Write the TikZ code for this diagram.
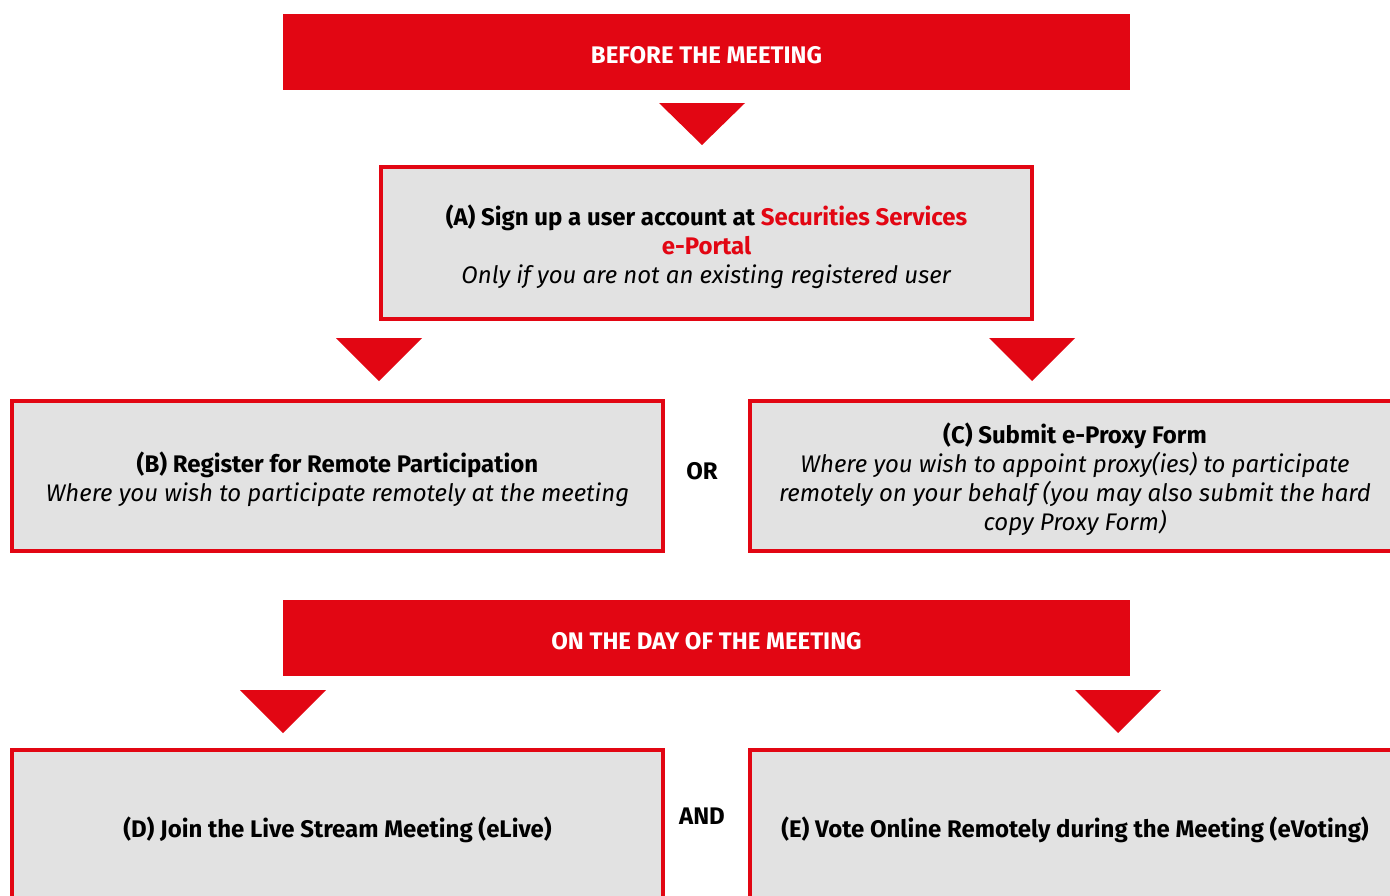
\documentclass[tikz,border=0pt]{standalone}
\usepackage{fontspec}
\setmainfont{Fira Sans}
\definecolor{brandred}{HTML}{E20613}
\definecolor{boxgray}{HTML}{E2E2E2}
\begin{document}
\begin{tikzpicture}[x=1pt,y=-1pt,
  banner/.style={fill=brandred,draw=none,text=white,font=\fontsize{24}{29}\selectfont\bfseries},
  stepbox/.style={fill=boxgray,draw=brandred,line width=4pt},
  boxtext/.style={align=center,font=\fontsize{24}{29}\selectfont,inner sep=0pt},
  sep/.style={font=\fontsize{24}{29}\selectfont\bfseries,inner sep=0pt},
  tri/.style={fill=brandred,draw=none}]
\clip (0,0) rectangle (1390,895);
\fill[white] (0,0) rectangle (1390,895);
% banners
\fill[banner] (283,14) rectangle (1130,90);
\node[banner,fill=none,inner sep=0pt] (before) at (706.5,55) {BEFORE THE MEETING};
\fill[banner] (283,600) rectangle (1130,676);
\node[banner,fill=none,inner sep=0pt] (onday) at (706.5,641) {ON THE DAY OF THE MEETING};
% triangles
\fill[tri] (659,103) -- (745,103) -- (702,145) -- cycle;
\fill[tri] (336,338) -- (422,338) -- (379,381) -- cycle;
\fill[tri] (989,338) -- (1075,338) -- (1032,381) -- cycle;
\fill[tri] (240,690) -- (326,690) -- (283,733) -- cycle;
\fill[tri] (1075,690) -- (1161,690) -- (1118,733) -- cycle;
% boxes
\draw[stepbox] (381,167) rectangle (1032,319);
\draw[stepbox] (12,401) rectangle (663,551);
\draw[stepbox] (750,401) rectangle (1401,551);
\draw[stepbox] (12,750) rectangle (663,910);
\draw[stepbox] (750,750) rectangle (1401,910);
% texts
\node[boxtext] (a) at (706.5,247) {\textbf{(A) Sign up a user account at \textcolor{brandred}{Securities Services}}\\\textbf{\textcolor{brandred}{e-Portal}}\\\textit{Only if you are not an existing registered user}};
\node[boxtext] (b) at (337.5,479.5) {\textbf{(B) Register for Remote Participation}\\\textit{Where you wish to participate remotely at the meeting}};
\node[boxtext] (c) at (1075,479.5) {\textbf{(C) Submit e-Proxy Form}\\\textit{Where you wish to appoint proxy(ies) to participate}\\\textit{remotely on your behalf (you may also submit the hard}\\\textit{copy Proxy Form)}};
\node[sep] (or) at (702,471) {OR};
\node[boxtext] (d) at (337.5,830) {\textbf{(D) Join the Live Stream Meeting (eLive)}};
\node[boxtext] (e) at (1075,830) {\textbf{(E) Vote Online Remotely during the Meeting (eVoting)}};
\node[sep] (and) at (702,816) {AND};
\end{tikzpicture}
\end{document}
